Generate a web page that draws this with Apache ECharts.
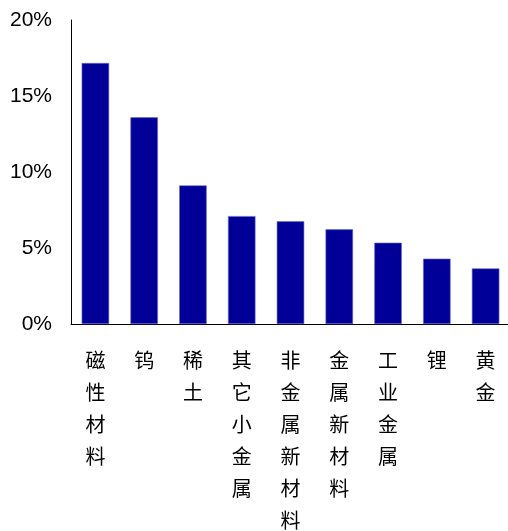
<!DOCTYPE html>
<html>
<head>
<meta charset="utf-8">
<script src="https://cdn.jsdelivr.net/npm/echarts@6/dist/echarts.min.js"></script>
<style>
  html, body { margin: 0; padding: 0; background: #fff; }
  #chart { width: 508px; height: 531px; }
</style>
</head>
<body>
<div id="chart"></div>
<script>
// Sector names and their share (%)
const categories = ['磁性材料', '钨', '稀土', '其它小金属', '非金属新材料', '金属新材料', '工业金属', '锂', '黄金'];
const shares = [17.17, 13.6, 9.12, 7.1, 6.76, 6.23, 5.35, 4.3, 3.66];
const yTicks = [0, 5, 10, 15, 20];

const chart = echarts.init(document.getElementById('chart'));
const font = '"Noto Sans CJK SC", "Liberation Sans", Arial, sans-serif';

chart.setOption({
  animation: false,
  grid: {
    left: 71, top: 20, width: 439, height: 304,
    containLabel: false,
    outerBoundsMode: 'none'
  },
  xAxis: {
    type: 'category',
    data: categories,
    axisLine: { lineStyle: { color: '#000', width: 1 } },
    axisTick: { show: false },
    axisLabel: {
      interval: 0,
      margin: 20,
      color: '#000',
      fontSize: 20,
      fontFamily: font,
      lineHeight: 32,
      formatter: v => v.split('').join('\n')
    }
  },
  yAxis: {
    type: 'value',
    min: yTicks[0],
    max: yTicks[yTicks.length - 1],
    interval: 5,
    splitLine: { show: false },
    axisTick: { show: false },
    axisLine: { show: true, lineStyle: { color: '#000', width: 1 } },
    axisLabel: {
      margin: 19,
      color: '#000',
      fontSize: 21,
      fontFamily: '"Liberation Sans", Arial, sans-serif',
      formatter: v => v + '%'
    }
  },
  series: [{
    type: 'bar',
    data: shares,
    barWidth: 27.5,
    itemStyle: { color: '#000099', borderColor: '#6b6bc8', borderWidth: 0.6 }
  }]
});
</script>
</body>
</html>
